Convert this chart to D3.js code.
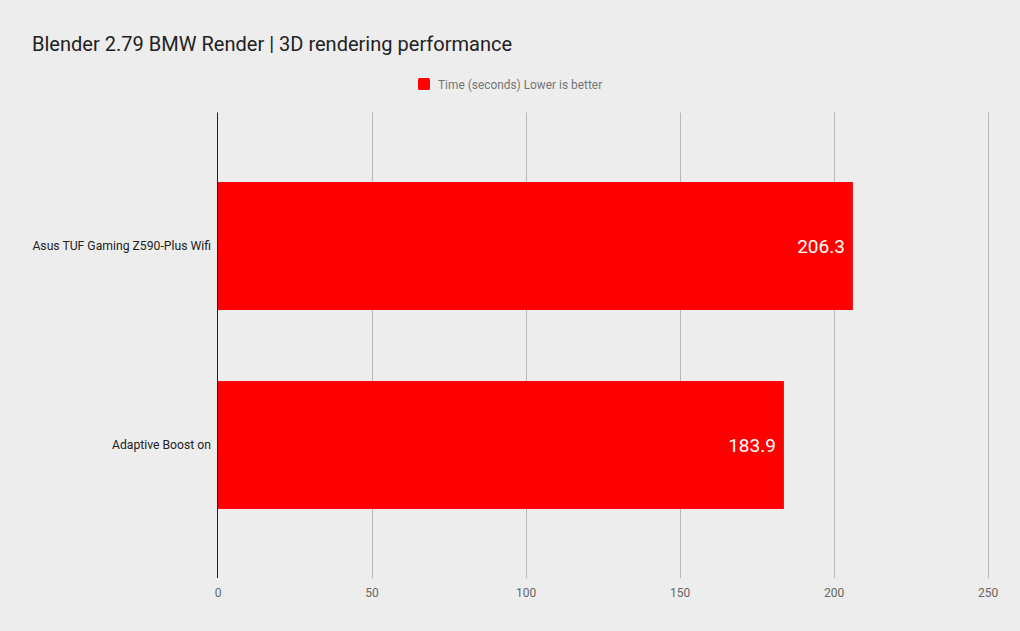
<!DOCTYPE html>
<html>
<head>
<meta charset="utf-8">
<script src="https://cdn.jsdelivr.net/npm/d3@7"></script>
<style>
  html, body { margin: 0; padding: 0; background: #ededed; }
  svg { display: block; font-family: Roboto, "Noto Sans", sans-serif; }
</style>
</head>
<body>
<svg id="chart" width="1020" height="631"></svg>
<script>
const title = "Blender 2.79 BMW Render | 3D rendering performance";
const seriesName = "Time (seconds) Lower is better";
const categories = ["Asus TUF Gaming Z590-Plus Wifi", "Adaptive Boost on"];
const values = [206.3, 183.9];
const xTicks = [0, 50, 100, 150, 200, 250];

const svg = d3.select("#chart");
const W = 1020, H = 631;
svg.append("rect").attr("width", W).attr("height", H).attr("fill", "#ededed");

const plotTop = 112.5, plotBottom = 578;
const x = d3.scaleLinear().domain([0, 250]).range([217.5, 987.5]);
const y = d3.scaleBand().domain(categories).range([146.5, 544.5])
  .paddingInner(0.357).paddingOuter(0.1785);

// title
svg.append("text").attr("x", 32).attr("y", 51)
  .attr("font-size", 20.05).attr("fill", "#222").text(title);

// legend
const lg = svg.append("g");
lg.append("rect").attr("x", 418).attr("y", 78).attr("width", 12).attr("height", 12)
  .attr("rx", 1.5).attr("fill", "#ff0000");
lg.append("text").attr("x", 438).attr("y", 88.5).attr("font-size", 11.9)
  .attr("fill", "#757575").text(seriesName);

// gridlines
svg.append("g").selectAll("line").data(xTicks.filter(d => d !== 0)).join("line")
  .attr("x1", d => Math.round(x(d)) + 0.5).attr("x2", d => Math.round(x(d)) + 0.5)
  .attr("y1", plotTop).attr("y2", plotBottom)
  .attr("stroke", "#b8b8b8").attr("stroke-width", 1);

// x axis labels
const xAxis = d3.axisBottom(x).tickValues(xTicks).tickSize(0).tickPadding(0);
const gx = svg.append("g").attr("transform", `translate(0,${plotBottom + 19})`).call(xAxis);
gx.select(".domain").remove();
gx.selectAll("text").attr("font-size", 12).attr("fill", "#666")
  .attr("font-family", "Roboto, sans-serif").attr("dy", 0);

// bars
svg.append("g").selectAll("rect").data(categories).join("rect")
  .attr("x", x(0)).attr("y", d => y(d))
  .attr("width", (d, i) => x(values[i]) - x(0))
  .attr("height", y.bandwidth())
  .attr("fill", "#ff0000");

// value labels
svg.append("g").selectAll("text").data(categories).join("text")
  .attr("x", (d, i) => x(values[i]) - 8)
  .attr("y", d => y(d) + y.bandwidth() / 2 + 6.8)
  .attr("text-anchor", "end").attr("font-size", 19).attr("fill", "#ffffff")
  .text((d, i) => values[i].toFixed(1));

// y axis
const yAxis = d3.axisLeft(y).tickSize(0).tickPadding(6);
const gy = svg.append("g").attr("transform", `translate(${x(0) - 0.5},0)`).call(yAxis);
gy.select(".domain").remove();
gy.selectAll("text").attr("font-size", 12.2).attr("fill", "#222")
  .attr("font-family", "Roboto, sans-serif");

// zero baseline
svg.append("line").attr("x1", 217.5).attr("x2", 217.5)
  .attr("y1", plotTop).attr("y2", plotBottom)
  .attr("stroke", "#222").attr("stroke-width", 1);
</script>
</body>
</html>
